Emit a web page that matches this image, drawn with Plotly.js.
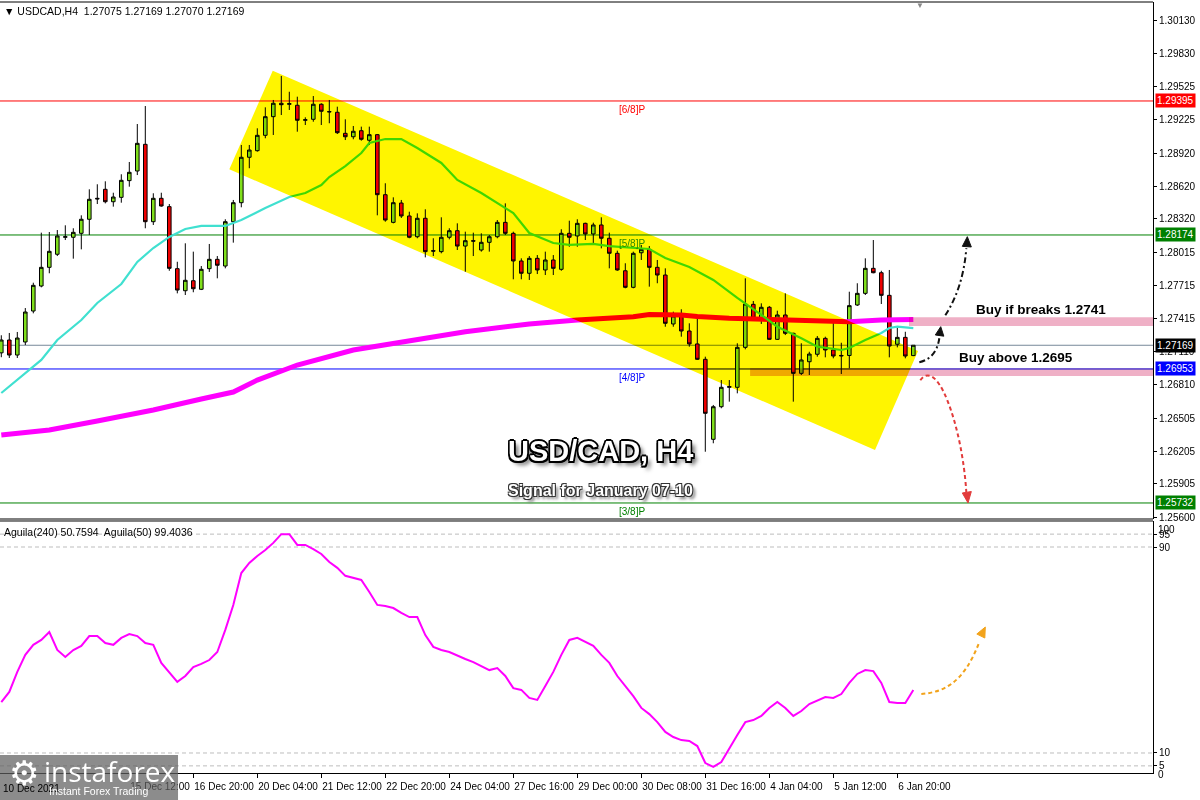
<!DOCTYPE html>
<html><head><meta charset="utf-8">
<script src="https://cdn.plot.ly/plotly-3.0.1.min.js"></script>
<style>html,body{margin:0;padding:0;background:#fff}#chart{width:1200px;height:800px}</style>
</head><body><div id="chart"></div>
<script>
// ---------------- DATA ----------------
const symbol = 'USDCAD,H4';
const open = [1.27100,1.27217,1.27080,1.27199,1.27481,1.27709,1.27879,1.27998,1.28153,1.28153,
1.28189,1.28317,1.28508,1.28590,1.28477,1.28517,1.28669,1.28757,1.29000,1.28295,
1.28508,1.28432,1.27867,1.27666,1.27757,1.27679,1.27867,1.27952,1.27891,1.28295,
1.28468,1.28882,1.28942,1.29082,1.29252,1.29374,1.29365,1.29356,1.29219,1.29228,
1.29365,1.29298,1.29292,1.29100,1.29069,1.29124,1.29037,1.29088,1.28541,1.28289,
1.28465,1.28347,1.28158,1.28326,1.28031,1.28022,1.28153,1.28213,1.28073,1.28122,
1.28037,1.28107,1.28158,1.28289,1.28189,1.27937,1.27825,1.27961,1.27855,1.27946,
1.27861,1.28189,1.28165,1.28280,1.28183,1.28265,1.28144,1.28007,1.27848,1.27697,
1.28012,1.28043,1.27879,1.27809,1.27363,1.27436,1.27299,1.27181,1.27041,1.26312,
1.26609,1.26786,1.26786,1.27150,1.27542,1.27406,1.27515,1.27223,1.27445,1.27278,
1.26913,1.27019,1.27087,1.27232,1.27126,1.27071,1.27076,1.27536,1.27642,1.27870,
1.27830,1.27624,1.27178,1.27241,1.27075];
const high = [1.27260,1.27281,1.27290,1.27508,1.27739,1.28195,1.28201,1.28219,1.28262,1.28235,
1.28353,1.28590,1.28636,1.28663,1.28559,1.28727,1.28839,1.29185,1.29349,1.28554,
1.28559,1.28456,1.27930,1.28098,1.28022,1.27891,1.28092,1.27982,1.28317,1.28493,
1.28994,1.28994,1.29146,1.29337,1.29404,1.29623,1.29479,1.29434,1.29246,1.29440,
1.29374,1.29404,1.29343,1.29228,1.29167,1.29161,1.29161,1.29094,1.28645,1.28517,
1.28493,1.28386,1.28371,1.28408,1.28144,1.28335,1.28235,1.28280,1.28204,1.28195,
1.28189,1.28174,1.28310,1.28462,1.28204,1.27961,1.27982,1.27991,1.28022,1.27991,
1.28226,1.28304,1.28317,1.28286,1.28286,1.28335,1.28195,1.28031,1.27916,1.28022,
1.28083,1.28073,1.27946,1.27870,1.27475,1.27497,1.27369,1.27436,1.27065,1.26625,
1.26852,1.26852,1.27187,1.27779,1.27572,1.27551,1.27527,1.27484,1.27642,1.27283,
1.27187,1.27110,1.27253,1.27247,1.27384,1.27192,1.27657,1.27734,1.27961,1.28128,
1.27848,1.27855,1.27344,1.27292,1.27169];
const low = [1.27060,1.27053,1.27053,1.27171,1.27460,1.27697,1.27825,1.27982,1.28128,1.27958,
1.28043,1.28174,1.28456,1.28462,1.28432,1.28468,1.28614,1.28720,1.28235,1.28265,
1.28432,1.27848,1.27642,1.27627,1.27652,1.27672,1.27837,1.27779,1.27870,1.28104,
1.28426,1.28782,1.28933,1.29055,1.29085,1.29267,1.29313,1.29115,1.29176,1.29206,
1.29176,1.29192,1.29094,1.29039,1.29046,1.29033,1.28994,1.28353,1.28295,1.28280,
1.28329,1.28144,1.28144,1.27970,1.27982,1.28007,1.28134,1.28037,1.27839,1.27982,
1.28022,1.28022,1.28144,1.28174,1.27770,1.27770,1.27764,1.27818,1.27809,1.27809,
1.27848,1.28067,1.28067,1.28128,1.28083,1.28052,1.27870,1.27848,1.27688,1.27688,
1.27946,1.27703,1.27734,1.27338,1.27338,1.27247,1.27156,1.27035,1.26199,1.26276,
1.26595,1.26655,1.26731,1.27132,1.27406,1.27363,1.27217,1.27217,1.27262,1.26655,
1.26898,1.26898,1.27065,1.27059,1.27050,1.26907,1.26959,1.27527,1.27627,1.27825,
1.27545,1.27059,1.27150,1.27050,1.27070];
const close = [1.27217,1.27080,1.27235,1.27472,1.27715,1.27879,1.28025,1.28165,1.28158,1.28198,
1.28317,1.28499,1.28503,1.28477,1.28520,1.28672,1.28745,1.29009,1.28295,1.28508,
1.28438,1.27870,1.27672,1.27761,1.27684,1.27861,1.27952,1.27898,1.28295,1.28468,
1.28882,1.28948,1.29082,1.29252,1.29374,1.29361,1.29370,1.29219,1.29224,1.29365,
1.29301,1.29296,1.29106,1.29069,1.29119,1.29046,1.29088,1.28541,1.28310,1.28468,
1.28347,1.28153,1.28326,1.28022,1.28027,1.28153,1.28213,1.28073,1.28122,1.28118,
1.28107,1.28158,1.28289,1.28189,1.27937,1.27825,1.27961,1.27855,1.27946,1.27870,
1.28189,1.28153,1.28280,1.28183,1.28265,1.28144,1.28007,1.27855,1.27697,1.28007,
1.28043,1.27879,1.27809,1.27369,1.27436,1.27299,1.27181,1.27041,1.26549,1.26609,
1.26786,1.26792,1.27150,1.27545,1.27415,1.27515,1.27223,1.27445,1.27278,1.26913,
1.27035,1.27089,1.27232,1.27126,1.27071,1.27076,1.27530,1.27642,1.27870,1.27830,
1.27624,1.27162,1.27241,1.27071,1.27169];

// moving averages: [bar index] and [price] read at points along the lines
const maFastIdx = [0,2,5,7,10,12,15,17,19,21,23,25,28,30,33,36,38,40,41,43,45,46,48,50,52,55,57,60,64,66,69,71,74,76,79,81,83,86,89,92,95,97,100,102,105,106,108,110,111,112,114];
const maFastVal = [1.26734,1.26852,1.27035,1.27217,1.27399,1.27554,1.27727,1.27928,1.28055,1.28156,1.28228,1.28256,1.28256,1.28310,1.28420,1.28520,1.28556,1.28629,1.28702,1.28802,1.28921,1.29012,1.29048,1.29048,1.28966,1.28830,1.28675,1.28556,1.28374,1.28192,1.28101,1.28083,1.28092,1.28073,1.28055,1.28046,1.27964,1.27882,1.27764,1.27600,1.27445,1.27338,1.27232,1.27156,1.27126,1.27144,1.27217,1.27281,1.27326,1.27338,1.27326];
const maSlowIdx = [0,6,12,19,25,29,32,37,44,50,58,66,72,79,81,85,87,91,94,100,106,110,114];
const maSlowVal = [1.26351,1.26397,1.26479,1.26579,1.26679,1.26743,1.26852,1.26989,1.27126,1.27201,1.27292,1.27363,1.27399,1.27429,1.27449,1.27445,1.27431,1.27415,1.27408,1.27393,1.27384,1.27399,1.27404];

// Aguila oscillator (one value per bar)
const aguila = [29.8,33.7,41.5,48.1,52.0,53.9,57.0,50.0,47.3,50.0,51.6,
55.4,55.4,52.7,52.0,54.7,56.2,55.4,52.7,52.0,45.0,
41.5,37.6,39.9,43.4,44.6,46.1,49.2,57.8,67.5,79.9,
83.8,86.5,88.8,91.6,95.0,95.0,90.8,90.8,89.2,87.3,
84.2,81.9,78.8,78.0,77.2,72.5,67.5,67.1,66.3,64.4,
62.8,62.8,55.8,51.2,50.0,49.2,47.7,46.5,45.3,43.8,
42.2,43.0,39.9,35.2,34.5,31.4,30.6,36.0,41.5,48.1,
53.9,54.7,53.1,51.6,48.1,45.0,39.9,36.0,32.1,27.5,
25.1,22.0,18.2,16.2,15.0,14.7,12.7,6.1,4.6,6.5,
11.9,17.0,22.0,22.8,24.4,27.5,29.8,27.5,24.4,26.3,
29.0,30.2,31.7,31.4,32.9,37.2,40.7,42.2,41.8,37.2,
29.8,29.4,29.4,34.5];
const aguilaHeader = 'Aguila(240) 50.7594  Aguila(50) 99.4036';
const aguilaLevels = [95, 90, 10, 5];
const aguilaTicks = [95, 90, 10, 5];

// time axis labels (bar index -> label)
const timeTickIdx = [16,24,32,40,48,56,64,72,80,88,96,104,112];
const timeTickText = ['15 Dec 12:00','16 Dec 20:00','20 Dec 04:00','21 Dec 12:00','22 Dec 20:00','24 Dec 04:00','27 Dec 16:00','29 Dec 00:00','30 Dec 08:00','31 Dec 16:00','4 Jan 04:00','5 Jan 12:00','6 Jan 20:00'];
const firstDateLabel = '10 Dec 2021';

// price axis labels
const priceTicks = [1.30130,1.29830,1.29525,1.29225,1.28920,1.28620,1.28320,1.28015,1.27715,1.27415,1.27110,1.26810,1.26505,1.26205,1.25905,1.25600];

// Murrey levels
const levelPrices = [1.29395, 1.28174, 1.26953, 1.25732];
const levelNames = ['[6/8]P', '[5/8]P', '[4/8]P', '[3/8]P'];
const bidPrice = 1.27169;

// zones and channel (bar index, price)
const channelPts = [[33.93,1.29671],[114.59,1.27117],[109.21,1.26215],[28.5,1.28772]];
const buyBreakZone = [113.46, 1.27345, 1.27424];
const buyAboveZone = [93.6, 1.26889, 1.26959];

// ---------------- STYLE ----------------
const FONT = '"Liberation Sans", Arial, sans-serif';
const XR = [-0.1625, 143.96];
const levelColors = ['#FF0000', '#008000', '#0000FF', '#008000'];
const levelTextColors = ['#FF0000', '#2E8B00', '#0000FF', '#008000'];
const barIdx = open.map((_, i) => i);
const last = open.length - 1;

const traces = [
  {type:'scatter', mode:'lines', x:maSlowIdx, y:maSlowVal, xaxis:'x', yaxis:'y',
   line:{color:'#FF00FF', width:5}, hoverinfo:'skip'},
  {type:'scatter', mode:'lines', x:maFastIdx, y:maFastVal, xaxis:'x', yaxis:'y',
   line:{color:'#40E0D0', width:2.2}, hoverinfo:'skip'},
  {type:'candlestick', x:barIdx, open:open, high:high, low:low, close:close, xaxis:'x', yaxis:'y',
   increasing:{line:{color:'#000', width:1}, fillcolor:'#80E01C'},
   decreasing:{line:{color:'#000', width:1}, fillcolor:'#EE0000'},
   whiskerwidth:0, hoverinfo:'skip'},
  {type:'scatter', mode:'lines', x:barIdx, y:aguila, xaxis:'x', yaxis:'y2',
   line:{color:'#FF00FF', width:2}, hoverinfo:'skip'}
];

const shapes = [];
const blendIdx = [];
levelPrices.forEach((p, k) => shapes.push({type:'line', xref:'x', yref:'y', x0:XR[0], x1:XR[1], y0:p, y1:p, layer:'below', line:{color:levelColors[k], width:1}}));
shapes.push({type:'line', xref:'x', yref:'y', x0:XR[0], x1:XR[1], y0:bidPrice, y1:bidPrice, layer:'below', line:{color:'#778899', width:1}});
aguilaLevels.forEach(v => shapes.push({type:'line', xref:'x', yref:'y2', x0:XR[0], x1:XR[1], y0:v, y1:v, layer:'below', line:{color:'#BDBDBD', width:1, dash:'4px,3px'}}));

// multiply-blended objects (channel + zones)
blendIdx.push(shapes.length);
shapes.push({type:'path', xref:'x', yref:'y', layer:'above',
  path:'M ' + channelPts.map(p => p[0] + ',' + p[1]).join(' L ') + ' Z',
  fillcolor:'#FFF500', line:{width:0}});
blendIdx.push(shapes.length);
shapes.push({type:'rect', xref:'x', yref:'y', layer:'above', x0:buyBreakZone[0], x1:XR[1], y0:buyBreakZone[1], y1:buyBreakZone[2], fillcolor:'#EFB0C6', line:{width:0}});
blendIdx.push(shapes.length);
shapes.push({type:'rect', xref:'x', yref:'y', layer:'above', x0:buyAboveZone[0], x1:XR[1], y0:buyAboveZone[1], y1:buyAboveZone[2], fillcolor:'#EFB0C6', line:{width:0}});

// arrows (pixel offsets from last bar)
function arrow(path, head, color, dash, yref, yanchor) {
  const base = {type:'path', xref:'x', yref:yref, xsizemode:'pixel', ysizemode:'pixel', xanchor:last, yanchor:yanchor, layer:'above'};
  shapes.push(Object.assign({}, base, {path:path, line:{color:color, width:2, dash:dash}}));
  shapes.push(Object.assign({}, base, {path:head, fillcolor:color, line:{color:color, width:1}}));
}
arrow('M 6 -17 Q 23 -13 26 7', 'M 27.4 18.6 L 22 10.3 L 30.5 9.1 Z', '#111', '6px,3px,2px,3px', 'y', close[last]);
arrow('M 32 30 Q 50 58 53 97', 'M 54 108.6 L 49 98.9 L 58 98.3 Z', '#111', '6px,3px,2px,3px', 'y', close[last]);
arrow('M 7 -35 C 14 -25 24 -30 34 -55 C 44 -80 51 -115 53 -147', 'M 54.7 -157.7 L 49 -147.7 L 58 -146.3 Z', '#E23B3B', '4px,3px', 'y', close[last]);
arrow('M 8 0 C 30 2 50 10 66 52', 'M 72 67 L 63.5 60 L 71.5 56 Z', '#F2A31B', '4px,3px', 'y2', aguila[last] - 1.6);

// pane separators
const mainBottom = 0.32944, indTop = 0.32685;
shapes.push({type:'line', xref:'paper', yref:'paper', x0:0, x1:1, y0:mainBottom, y1:mainBottom, line:{color:'#000', width:1}});
shapes.push({type:'line', xref:'paper', yref:'paper', x0:0, x1:1, y0:indTop, y1:indTop, line:{color:'#000', width:1}});
shapes.push({type:'line', xref:'paper', yref:'paper', x0:0, x1:1, y0:1, y1:1, line:{color:'#000', width:1}});
// logo box
shapes.push({type:'rect', xref:'paper', yref:'paper', x0:0, x1:0.1544, y0:-0.036, y1:0.0234, fillcolor:'rgba(95,95,95,0.72)', line:{width:0}, layer:'above'});

const ann = [];
const f = (s, c) => ({family:FONT, size:s, color:c || '#000'});
ann.push({xref:'paper', yref:'paper', x:0, y:1, xanchor:'left', yanchor:'top', xshift:2, yshift:-1, showarrow:false,
  text:'\u25BC ' + symbol + '  ' + [open[last], high[last], low[last], close[last]].map(v => v.toFixed(5)).join(' '), font:f(10.5)});
ann.push({xref:'paper', yref:'paper', x:0, y:indTop, xanchor:'left', yanchor:'top', xshift:2, yshift:-3, showarrow:false, text:aguilaHeader, font:f(10.5)});
// price boxes
const boxPrices = [levelPrices[0], levelPrices[1], bidPrice, levelPrices[2], levelPrices[3]];
const boxColors = ['#FF0000', '#008000', '#000000', '#0000FF', '#008000'];
boxPrices.forEach((p, k) => ann.push({xref:'paper', yref:'y', x:1, y:p, xanchor:'left', yanchor:'middle', xshift:2, showarrow:false,
  text:p.toFixed(5), bgcolor:boxColors[k], borderpad:1, font:f(10, '#fff')}));
// level labels
levelPrices.forEach((p, k) => ann.push({xref:'x', yref:'y', x:78.8, y:p, xanchor:'center', yanchor:'top', yshift:-1, showarrow:false,
  text:levelNames[k], font:f(10, levelTextColors[k])}));
// indicator 100 / 0 labels (pushed inside the pane like the terminal does)
ann.push({xref:'paper', yref:'paper', x:1, y:indTop, xanchor:'left', yanchor:'top', xshift:3, yshift:-1, showarrow:false, text:'100', font:f(10)});
ann.push({xref:'paper', yref:'paper', x:1, y:0, xanchor:'left', yanchor:'middle', xshift:3, yshift:-1, showarrow:false, text:'0', font:f(10)});
// first date label
ann.push({xref:'paper', yref:'paper', x:0, y:0, xanchor:'left', yanchor:'top', xshift:1, yshift:-8, showarrow:false, text:firstDateLabel, font:f(10)});
// titles
const outline = '-1.5px -1.5px 0 #000, 1.5px -1.5px 0 #000, -1.5px 1.5px 0 #000, 1.5px 1.5px 0 #000, 0 1.6px 0 #000, 0 -1.6px 0 #000, 1.6px 0 0 #000, -1.6px 0 0 #000, 4px 4px 4px #666';
ann.push({xref:'paper', yref:'paper', x:0.5204, y:0.417, xanchor:'center', yanchor:'middle', showarrow:false,
  text:'<b>USD/CAD, H4</b>', font:{family:FONT, size:29, color:'#fff', shadow:outline}});
ann.push({xref:'paper', yref:'paper', x:0.5204, y:0.3658, xanchor:'center', yanchor:'middle', showarrow:false,
  text:'<b>Signal for January 07-10</b>', font:{family:FONT, size:16, color:'#fff', shadow:'-1px -1px 0 #333, 1px -1px 0 #333, -1px 1px 0 #333, 1px 1px 0 #333, 3px 3px 3px #777'}});
ann.push({xref:'paper', yref:'paper', x:0.9029, y:0.6018, xanchor:'center', yanchor:'middle', showarrow:false,
  text:'<b>Buy if breaks 1.2741</b>', font:f(13.5, '#000')});
ann.push({xref:'paper', yref:'paper', x:0.8812, y:0.5383, xanchor:'center', yanchor:'middle', showarrow:false,
  text:'<b>Buy above 1.2695</b>', font:f(13.5, '#000')});
// logo
ann.push({xref:'paper', yref:'paper', x:0.0208, y:0.0, xanchor:'center', yanchor:'middle', showarrow:false, text:'\u2699', font:{family:'DejaVu Sans', size:34, color:'#fff'}});
ann.push({xref:'paper', yref:'paper', x:0.0954, y:0.003, xanchor:'center', yanchor:'middle', showarrow:false, text:'instaforex', font:{family:'"Open Sans", sans-serif', size:28, color:'#fff'}});
ann.push({xref:'paper', yref:'paper', x:0.085, y:-0.023, xanchor:'center', yanchor:'middle', showarrow:false, text:'Instant Forex Trading', font:f(10.5, '#fff')});
// shift marker
ann.push({xref:'paper', yref:'paper', x:0.798, y:1, xanchor:'center', yanchor:'top', yshift:3, showarrow:false, text:'\u25BC', font:f(8, '#888')});

const layout = {
  width:1200, height:800,
  margin:{l:0, r:47, t:2, b:27},
  paper_bgcolor:'#fff', plot_bgcolor:'#fff',
  showlegend:false, hovermode:false, boxgap:0.36,
  xaxis:{domain:[0,1], anchor:'y2', range:XR, showgrid:false, zeroline:false, showline:true, linecolor:'#000', linewidth:1,
    ticks:'outside', ticklen:4, tickcolor:'#000', tickvals:timeTickIdx, ticktext:timeTickText, tickangle:0,
    ticklabelposition:'outside right', ticklabelstandoff:4, tickfont:f(10), rangeslider:{visible:false}, fixedrange:true},
  yaxis:{domain:[mainBottom,1], anchor:'x', side:'right', range:[1.255859, 1.302968], showgrid:false, zeroline:false,
    showline:true, linecolor:'#000', linewidth:1, ticks:'outside', ticklen:3, tickcolor:'#000',
    tickvals:priceTicks, ticktext:priceTicks.map(v => v.toFixed(5)), tickfont:f(10), fixedrange:true},
  yaxis2:{domain:[0,indTop], anchor:'x', side:'right', range:[2.23, 100.1], showgrid:false, zeroline:false,
    showline:true, linecolor:'#000', linewidth:1, ticks:'outside', ticklen:3, tickcolor:'#000',
    tickvals:aguilaTicks, ticktext:aguilaTicks.map(String), tickfont:f(10), fixedrange:true},
  shapes:shapes, annotations:ann
};

Plotly.newPlot('chart', traces, layout, {staticPlot:true, displayModeBar:false}).then(function(gd){
  gd.querySelectorAll('.shapelayer path[data-index]').forEach(function(p){
    var k = Number(p.getAttribute('data-index'));
    if (blendIdx.indexOf(k) < 0) return;
    var el = p;
    while (el && !(el.classList && el.classList.contains('shapelayer'))) {
      el.style.mixBlendMode = 'multiply';
      el = el.parentNode;
    }
  });
});
</script></body></html>
